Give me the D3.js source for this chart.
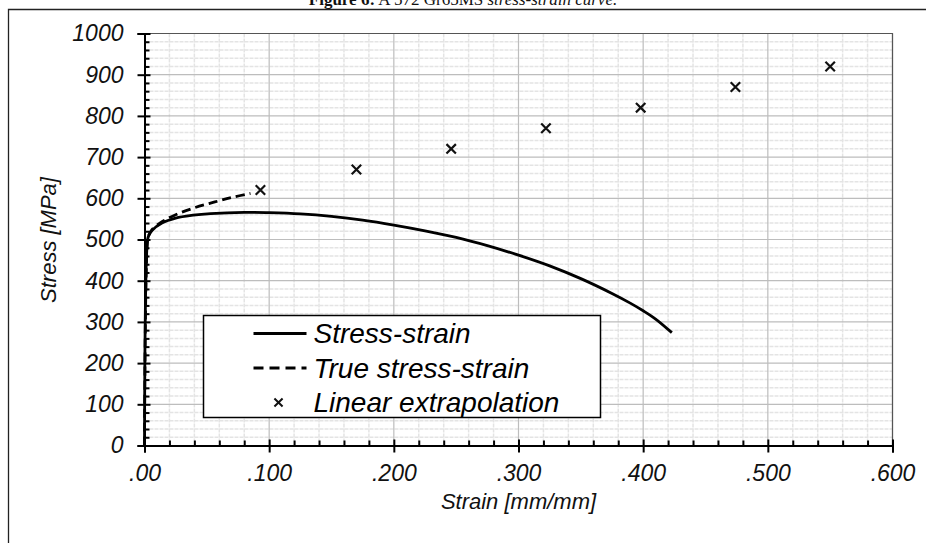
<!DOCTYPE html>
<html>
<head>
<meta charset="utf-8">
<script src="https://cdn.jsdelivr.net/npm/d3@7"></script>
<style>
  body { margin: 0; background: #fff; }
  svg { display: block; }
  .tick text { font-family: "Liberation Sans", Arial, sans-serif; font-style: italic; fill: #111; }
</style>
</head>
<body>
<div id="chart"></div>
<script>
// stress-strain (engineering) curve
const strainSS = [0, 0.0025, 0.0035, 0.006, 0.014, 0.025, 0.039, 0.053, 0.080, 0.100, 0.125, 0.150, 0.175, 0.200, 0.225, 0.250, 0.275, 0.300, 0.325, 0.350, 0.375, 0.390, 0.400, 0.410, 0.423];
const stressSS = [0, 500, 510, 522, 540, 552, 559, 563, 566, 565, 562, 556, 547, 535, 521, 505, 485, 462, 436, 405, 369, 345, 327, 307, 274];

// true stress-strain
const strainTrue = [0, 0.0025, 0.0035, 0.006, 0.014, 0.025, 0.040, 0.055, 0.070, 0.085];
const stressTrue = [0, 500, 511, 524, 543, 560, 577, 590, 602, 612];

// linear extrapolation markers
const strainLin = [0.093, 0.170, 0.246, 0.322, 0.398, 0.474, 0.550];
const stressLin = [620, 670, 720, 770, 820, 870, 920];

const xTicks = [0, 0.1, 0.2, 0.3, 0.4, 0.5, 0.6];
const xTickLabels = [".00", ".100", ".200", ".300", ".400", ".500", ".600"];
const yTicks = [0, 100, 200, 300, 400, 500, 600, 700, 800, 900, 1000];
const yTickLabels = ["0", "100", "200", "300", "400", "500", "600", "700", "800", "900", "1000"];

const legendNames = ["Stress-strain", "True stress-strain", "Linear extrapolation"];

const W = 926, H = 543;
const margin = { top: 33.5, right: 33.5, bottom: 97.5, left: 144.5 };
const width = W - margin.left - margin.right;
const height = H - margin.top - margin.bottom;

const root = d3.select("#chart").append("svg")
  .attr("width", W)
  .attr("height", H);

// title (cut off at the top, as in the source)
const title = root.append("text")
  .attr("x", 463)
  .attr("y", 5)
  .attr("text-anchor", "middle")
  .style("font-family", "'Liberation Serif', 'Times New Roman', serif")
  .style("font-size", "17px")
  .style("fill", "#111");
title.append("tspan").style("font-weight", "bold").text("Figure 6:");
title.append("tspan").text(" A 572 Gr65MS ");
title.append("tspan").style("font-style", "italic").text("stress-strain curve.");

// outer frame
root.append("path")
  .attr("d", `M8.5,${H + 2}V9.5H${W + 2}`)
  .attr("fill", "none")
  .attr("stroke", "#222")
  .attr("stroke-width", 1.3);

const svg = root.append("g")
  .attr("transform", `translate(${margin.left}, ${margin.top})`);

const xScale = d3.scaleLinear().domain([0, 0.6]).range([0, width]);
const yScale = d3.scaleLinear().domain([0, 1000]).range([height, 0]);

const xMinor = d3.range(0, 0.6001, 0.02).filter((d) => Math.abs(d * 10 - Math.round(d * 10)) > 1e-6);
const yMinor = d3.range(0, 1001, 20).filter((d) => d % 100 !== 0);

// minor grid
svg.append("g")
  .selectAll("line")
  .data(xMinor)
  .enter()
  .append("line")
  .attr("x1", (d) => xScale(d)).attr("x2", (d) => xScale(d))
  .attr("y1", 0).attr("y2", height)
  .attr("stroke", "#e4e4e4")
  .attr("stroke-width", 1.5)
  .attr("stroke-dasharray", "4,1");

svg.append("g")
  .selectAll("line")
  .data(yMinor)
  .enter()
  .append("line")
  .attr("x1", 0).attr("x2", width)
  .attr("y1", (d) => yScale(d)).attr("y2", (d) => yScale(d))
  .attr("stroke", "#e4e4e4")
  .attr("stroke-width", 1.5)
  .attr("stroke-dasharray", "4,1");

// major grid
svg.append("g")
  .selectAll("line")
  .data(xTicks.slice(1))
  .enter()
  .append("line")
  .attr("x1", (d) => xScale(d)).attr("x2", (d) => xScale(d))
  .attr("y1", 0).attr("y2", height)
  .attr("stroke", "#bdbdbd")
  .attr("stroke-width", 1.2);

svg.append("g")
  .selectAll("line")
  .data(yTicks.slice(1))
  .enter()
  .append("line")
  .attr("x1", 0).attr("x2", width)
  .attr("y1", (d) => yScale(d)).attr("y2", (d) => yScale(d))
  .attr("stroke", "#bdbdbd")
  .attr("stroke-width", 1.2);

// plot border top/right
svg.append("path")
  .attr("d", `M0,0H${width}V${height}`)
  .attr("fill", "none")
  .attr("stroke", "#555")
  .attr("stroke-width", 1.2);

// curves
const line = d3.line()
  .x((d) => xScale(d[0]))
  .y((d) => yScale(d[1]))
  .curve(d3.curveCatmullRom.alpha(0.5));

svg.append("path")
  .datum(strainTrue.map((d, i) => [d, stressTrue[i]]))
  .attr("d", line)
  .attr("fill", "none")
  .attr("stroke", "#000")
  .attr("stroke-width", 2.8)
  .attr("stroke-dasharray", "9,5");

svg.append("path")
  .datum(strainSS.map((d, i) => [d, stressSS[i]]))
  .attr("d", line)
  .attr("fill", "none")
  .attr("stroke", "#000")
  .attr("stroke-width", 2.8);

// markers
const cross = d3.symbol().type(d3.symbolX).size(60);
svg.selectAll("path.mk")
  .data(strainLin.map((d, i) => [d, stressLin[i]]))
  .enter()
  .append("path")
  .attr("class", "mk")
  .attr("d", cross)
  .attr("transform", (d) => `translate(${xScale(d[0])},${yScale(d[1])})`)
  .attr("fill", "none")
  .attr("stroke", "#111")
  .attr("stroke-width", 2.2);

// axes
const yAxis = svg.append("g")
  .call(d3.axisLeft(yScale).tickValues(yTicks).tickSize(7).tickPadding(14)
    .tickFormat((d, i) => yTickLabels[i]));
yAxis.selectAll("text").style("font-size", "23px");

svg.append("g")
  .call(d3.axisRight(yScale).tickValues(yTicks).tickSize(6).tickFormat(""))
  .call((g) => g.select(".domain").remove());
svg.append("g")
  .call(d3.axisRight(yScale).tickValues(yMinor).tickSize(5).tickFormat(""))
  .call((g) => g.select(".domain").remove());

const xAxis = svg.append("g")
  .attr("transform", `translate(0, ${height})`)
  .call(d3.axisBottom(xScale).tickValues(xTicks).tickSize(7).tickPadding(12)
    .tickFormat((d, i) => xTickLabels[i]));
xAxis.selectAll("text").style("font-size", "23px");

svg.append("g")
  .attr("transform", `translate(0, ${height})`)
  .call(d3.axisTop(xScale).tickValues(xTicks).tickSize(6).tickFormat(""))
  .call((g) => g.select(".domain").remove());
svg.append("g")
  .attr("transform", `translate(0, ${height})`)
  .call(d3.axisTop(xScale).tickValues(xMinor).tickSize(5).tickFormat(""))
  .call((g) => g.select(".domain").remove());

svg.selectAll(".domain, .tick line")
  .attr("stroke", "#000")
  .attr("stroke-width", 2);

// axis titles
svg.append("text")
  .attr("transform", "rotate(-90)")
  .attr("x", -(240 - margin.top))
  .attr("y", -89)
  .style("text-anchor", "middle")
  .style("font-family", "'Liberation Sans', Arial, sans-serif")
  .style("font-style", "italic")
  .style("font-size", "22px")
  .style("fill", "#111")
  .text("Stress [MPa]");

svg.append("text")
  .attr("x", xScale(0.3))
  .attr("y", height + 63)
  .style("text-anchor", "middle")
  .style("font-family", "'Liberation Sans', Arial, sans-serif")
  .style("font-style", "italic")
  .style("font-size", "22px")
  .style("fill", "#111")
  .text("Strain [mm/mm]");

// legend
const legend = root.append("g").attr("transform", "translate(203.5, 315.5)");
legend.append("rect")
  .attr("width", 397)
  .attr("height", 102)
  .attr("fill", "#fff")
  .attr("stroke", "#000")
  .attr("stroke-width", 1.5);

const rows = legend.selectAll("g.row")
  .data(legendNames)
  .enter()
  .append("g")
  .attr("transform", (d, i) => `translate(0, ${18 + i * 34.5})`);

rows.append("text")
  .attr("x", 110)
  .attr("y", 0)
  .attr("dy", "0.35em")
  .style("font-family", "'Liberation Sans', Arial, sans-serif")
  .style("font-style", "italic")
  .style("font-size", "28px")
  .style("fill", "#000")
  .text((d) => d);

rows.filter((d, i) => i < 2)
  .append("line")
  .attr("x1", 50).attr("x2", 103)
  .attr("y1", 0).attr("y2", 0)
  .attr("stroke", "#000")
  .attr("stroke-width", 2.8)
  .attr("stroke-dasharray", (d, i) => (i === 1 ? "10,6" : null));

rows.filter((d, i) => i === 2)
  .append("path")
  .attr("d", d3.symbol().type(d3.symbolX).size(45))
  .attr("transform", "translate(75, 0)")
  .attr("fill", "none")
  .attr("stroke", "#111")
  .attr("stroke-width", 2);
</script>
</body>
</html>
